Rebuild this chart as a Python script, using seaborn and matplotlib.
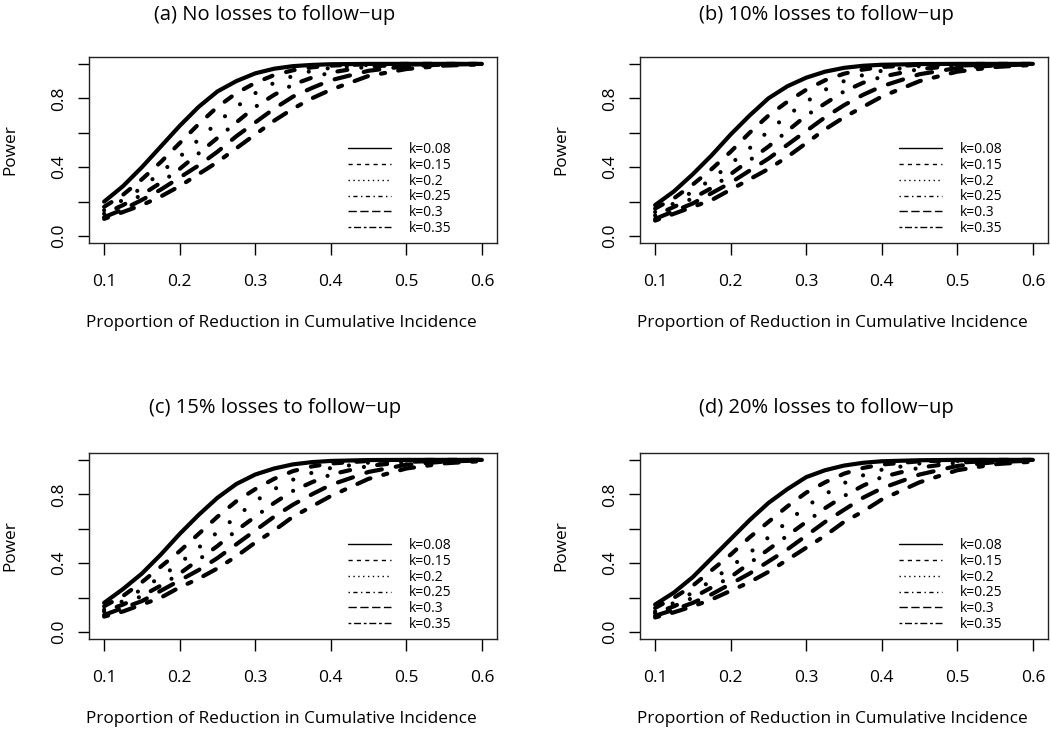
import numpy as np
import pandas as pd
import matplotlib
matplotlib.use("Agg")
import matplotlib.pyplot as plt
import seaborn as sns
from matplotlib.lines import Line2D

# reduction in cumulative incidence (x axis)
x_vals = [0.1, 0.125, 0.15, 0.175, 0.2, 0.225, 0.25, 0.275, 0.3, 0.325,
          0.35, 0.375, 0.4, 0.45, 0.5, 0.55, 0.6]

k_labels = ["k=0.08", "k=0.15", "k=0.2", "k=0.25", "k=0.3", "k=0.35"]

titles = ["(a) No losses to follow\u2212up",
          "(b) 10% losses to follow\u2212up",
          "(c) 15% losses to follow\u2212up",
          "(d) 20% losses to follow\u2212up"]

# power values, one list per k
power_a = [
    [0.20, 0.29, 0.40, 0.52, 0.64, 0.75, 0.84, 0.90, 0.945, 0.972, 0.987, 0.994, 0.998, 1.0, 1.0, 1.0, 1.0],
    [0.17, 0.24, 0.33, 0.43, 0.54, 0.65, 0.75, 0.83, 0.89, 0.935, 0.963, 0.98, 0.99, 0.998, 1.0, 1.0, 1.0],
    [0.15, 0.21, 0.28, 0.37, 0.46, 0.56, 0.66, 0.75, 0.83, 0.89, 0.93, 0.96, 0.977, 0.994, 0.999, 1.0, 1.0],
    [0.13, 0.18, 0.24, 0.31, 0.39, 0.48, 0.57, 0.66, 0.75, 0.82, 0.88, 0.92, 0.95, 0.985, 0.996, 0.999, 1.0],
    [0.11, 0.155, 0.21, 0.27, 0.34, 0.41, 0.49, 0.58, 0.66, 0.74, 0.81, 0.86, 0.905, 0.96, 0.987, 0.996, 0.999],
    [0.10, 0.14, 0.18, 0.23, 0.29, 0.36, 0.43, 0.51, 0.59, 0.67, 0.74, 0.80, 0.85, 0.93, 0.97, 0.99, 0.997],
]
power_b = [
    [0.18, 0.26, 0.36, 0.47, 0.59, 0.70, 0.80, 0.87, 0.92, 0.955, 0.977, 0.989, 0.995, 0.999, 1.0, 1.0, 1.0],
    [0.16, 0.22, 0.30, 0.39, 0.49, 0.60, 0.70, 0.78, 0.85, 0.905, 0.943, 0.967, 0.982, 0.995, 0.999, 1.0, 1.0],
    [0.14, 0.19, 0.26, 0.33, 0.42, 0.51, 0.61, 0.70, 0.78, 0.85, 0.90, 0.935, 0.96, 0.987, 0.997, 0.999, 1.0],
    [0.12, 0.17, 0.22, 0.28, 0.36, 0.44, 0.52, 0.61, 0.70, 0.77, 0.84, 0.89, 0.925, 0.97, 0.99, 0.997, 0.999],
    [0.10, 0.145, 0.19, 0.25, 0.31, 0.38, 0.45, 0.53, 0.61, 0.69, 0.76, 0.82, 0.87, 0.94, 0.976, 0.991, 0.997],
    [0.09, 0.13, 0.17, 0.21, 0.27, 0.33, 0.39, 0.46, 0.54, 0.62, 0.69, 0.75, 0.81, 0.90, 0.955, 0.982, 0.994],
]
power_c = [
    [0.17, 0.25, 0.34, 0.45, 0.57, 0.68, 0.78, 0.86, 0.915, 0.95, 0.974, 0.987, 0.994, 0.999, 1.0, 1.0, 1.0],
    [0.15, 0.21, 0.29, 0.38, 0.47, 0.57, 0.67, 0.76, 0.83, 0.89, 0.935, 0.962, 0.979, 0.994, 0.999, 1.0, 1.0],
    [0.13, 0.18, 0.25, 0.32, 0.40, 0.49, 0.58, 0.67, 0.76, 0.83, 0.885, 0.925, 0.953, 0.984, 0.996, 0.999, 1.0],
    [0.12, 0.16, 0.21, 0.27, 0.34, 0.42, 0.50, 0.59, 0.67, 0.75, 0.82, 0.87, 0.915, 0.965, 0.988, 0.996, 0.999],
    [0.10, 0.14, 0.18, 0.24, 0.30, 0.36, 0.43, 0.51, 0.59, 0.67, 0.74, 0.80, 0.855, 0.93, 0.972, 0.99, 0.997],
    [0.09, 0.12, 0.16, 0.20, 0.26, 0.31, 0.37, 0.44, 0.52, 0.59, 0.67, 0.73, 0.79, 0.89, 0.95, 0.98, 0.993],
]
power_d = [
    [0.16, 0.23, 0.32, 0.43, 0.54, 0.65, 0.75, 0.83, 0.90, 0.94, 0.967, 0.983, 0.992, 0.998, 1.0, 1.0, 1.0],
    [0.14, 0.20, 0.27, 0.36, 0.45, 0.55, 0.64, 0.73, 0.81, 0.87, 0.92, 0.953, 0.973, 0.992, 0.998, 1.0, 1.0],
    [0.12, 0.17, 0.23, 0.30, 0.38, 0.46, 0.55, 0.64, 0.73, 0.80, 0.865, 0.91, 0.943, 0.979, 0.994, 0.998, 1.0],
    [0.11, 0.15, 0.20, 0.26, 0.32, 0.40, 0.48, 0.56, 0.64, 0.72, 0.79, 0.85, 0.90, 0.955, 0.984, 0.995, 0.999],
    [0.095, 0.13, 0.17, 0.22, 0.28, 0.34, 0.41, 0.48, 0.56, 0.64, 0.71, 0.78, 0.835, 0.915, 0.965, 0.987, 0.996],
    [0.085, 0.115, 0.15, 0.19, 0.24, 0.29, 0.35, 0.42, 0.49, 0.56, 0.64, 0.70, 0.77, 0.87, 0.94, 0.975, 0.99],
]
panels = [power_a, power_b, power_c, power_d]

# R style line types for the thick curves (round caps): solid, dashed,
# dotted, dotdash, longdash, twodash
curve_styles = ["-", (0, (2.1, 3.4)), (0, (0.01, 4.6)), (0, (0.01, 3.2, 2.4, 3.4)),
                (0, (3.8, 3.4)), (0, (1.0, 3.2, 3.4, 3.2))]
# thin versions for the legend
legend_styles = ["-", (0, (3, 3)), (0, (1, 2.5)), (0, (1, 2.5, 3, 2.5)),
                 (0, (6, 2.5)), (0, (2, 2, 5, 2))]

sns.set_style("ticks")
plt.rcParams["font.family"] = ["Open Sans", "DejaVu Sans"]
plt.rcParams["text.color"] = "black"
plt.rcParams["axes.labelcolor"] = "black"
plt.rcParams["xtick.color"] = "black"
plt.rcParams["ytick.color"] = "black"

fig = plt.figure(figsize=(10.5, 7.32), dpi=100)
W, H = 1050, 732
lefts = [89, 640, 89, 640]
bottoms = [243, 243, 639, 639]
title_y = [15, 15, 408, 408]

for i in range(4):
    ax = fig.add_axes([lefts[i] / W, 1 - bottoms[i] / H, 408 / W, 186 / H])
    for j, k in enumerate(k_labels):
        df = pd.DataFrame({"x": x_vals, "power": panels[i][j]})
        sns.lineplot(data=df, x="x", y="power", ax=ax, color="black",
                     linewidth=3, linestyle=curve_styles[j],
                     dash_capstyle="round", solid_capstyle="round")
    ax.set_xlim(0.08, 0.62)
    ax.set_ylim(-0.04, 1.04)
    ax.set_xticks([0.1, 0.2, 0.3, 0.4, 0.5, 0.6])
    ax.set_xticklabels(["0.1", "0.2", "0.3", "0.4", "0.5", "0.6"])
    ax.set_yticks([0.0, 0.2, 0.4, 0.6, 0.8, 1.0])
    ax.set_yticklabels(["0.0", "", "0.4", "", "0.8", ""], rotation=90, va="center")
    ax.tick_params(axis="x", length=8.5, width=1, pad=14, labelsize=12.5)
    ax.tick_params(axis="y", length=8, width=1, pad=8, labelsize=12.5)
    for s in ax.spines.values():
        s.set_linewidth(1)
        s.set_color("#222222")
    ax.set_xlabel("Proportion of Reduction in Cumulative Incidence", fontsize=12.4)
    ax.xaxis.set_label_coords(0.5 - 12 / 408, -72 / 186)
    ax.set_ylabel("Power", fontsize=12.4, labelpad=23)
    cx = (lefts[i] + 204 - 18) / W
    fig.text(cx, 1 - title_y[i] / H, titles[i], ha="center", va="center",
             fontsize=14.5)

    handles = [Line2D([0], [0], color="black", lw=1, linestyle=legend_styles[j])
               for j in range(len(k_labels))]
    ax.legend(handles, k_labels, loc="lower right", frameon=False,
              fontsize=10, handlelength=3.1, handletextpad=1.3,
              labelspacing=0.06, borderaxespad=0.1,
              bbox_to_anchor=(0.907, 0.0))

fig.savefig("out.png", dpi=100)
